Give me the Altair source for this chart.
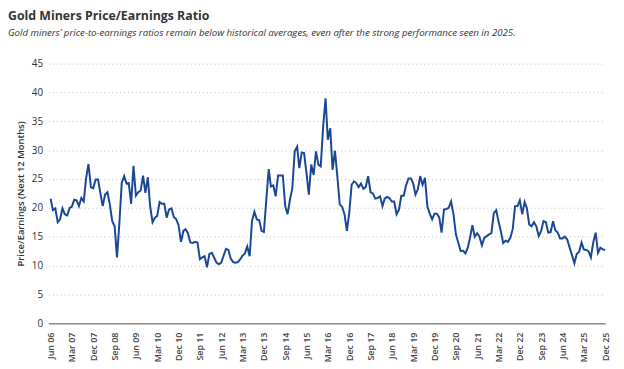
import altair as alt
import pandas as pd

# Monthly forward P/E of gold miners, Jun 2006 .. Dec 2025
pe_2006_2011 = [21.6, 19.6, 19.9, 17.5, 18.0, 19.9, 18.9, 18.7, 20.0, 20.2,
                21.4, 21.3, 20.3, 21.7, 21.1, 25.2, 27.6, 23.6, 23.4, 24.9,
                24.9, 22.6, 20.3, 22.3, 22.7, 20.6, 17.7, 16.8, 11.4, 17.4,
                24.3, 25.5, 24.2, 24.3, 20.7, 27.3, 22.1, 22.7, 23.0, 25.6,
                22.6, 25.3, 20.3, 17.5, 18.3, 18.6, 21.0, 20.7, 20.7, 18.3,
                19.7, 19.9, 18.4, 18.0, 17.0, 14.1, 16.0, 16.3]
pe_2011_2016 = [15.6, 14.0, 13.9, 14.1, 14.0, 11.1, 11.4, 11.6, 9.7, 12.0,
                12.2, 11.4, 10.5, 10.2, 10.5, 11.7, 12.9, 12.7, 11.2, 10.6,
                10.5, 10.6, 11.1, 11.7, 12.1, 13.3, 11.6, 17.7, 19.3, 18.0,
                17.9, 16.0, 15.8, 21.4, 26.7, 23.7, 23.9, 22.0, 25.6, 25.6,
                25.6, 20.3, 18.9, 21.4, 23.4, 29.8, 30.6, 26.9, 29.6, 29.5,
                26.0, 22.3, 27.5, 25.7, 29.8, 27.5, 27.2, 34.1]
pe_2016_2020 = [39.0, 31.8, 33.8, 26.6, 29.9, 25.5, 20.6, 20.2, 18.9, 16.0,
                19.1, 24.0, 24.6, 24.3, 23.6, 24.2, 23.3, 23.6, 25.5, 22.7,
                22.5, 21.6, 21.7, 22.0, 20.3, 21.6, 21.9, 21.7, 21.1, 21.1,
                18.9, 19.7, 22.1, 22.1, 23.9, 25.1, 25.1, 24.3, 22.3, 23.2,
                25.5, 24.0, 25.2, 20.2, 19.0, 18.0, 19.0, 19.0, 18.3, 15.7,
                19.7, 19.8, 20.0, 21.1, 18.9, 15.4, 14.0, 12.5, 12.6]
pe_2021_2025 = [12.1, 13.1, 14.8, 17.0, 15.0, 15.6, 15.0, 13.5, 14.8, 15.1,
                15.4, 15.6, 19.1, 19.6, 17.7, 16.0, 13.9, 14.3, 14.1, 14.8,
                16.3, 20.3, 20.3, 21.3, 18.9, 21.0, 20.0, 17.1, 16.8, 17.5,
                16.8, 15.1, 16.0, 17.7, 17.5, 15.7, 15.8, 17.7, 16.1, 15.7,
                14.7, 14.7, 15.0, 14.5, 13.1, 11.8, 10.4, 12.0, 12.4, 14.0,
                12.8, 12.7, 12.5, 11.4, 14.0, 15.7, 12.2, 13.1, 12.8, 12.7]

pe = pe_2006_2011 + pe_2011_2016 + pe_2016_2020 + pe_2021_2025
months = pd.date_range("2006-06-01", periods=len(pe), freq="MS").strftime("%Y-%m-%d")

tick_labels = ["Jun 06", "Mar 07", "Dec 07", "Sep 08", "Jun 09", "Mar 10", "Dec 10",
               "Sep 11", "Jun 12", "Mar 13", "Dec 13", "Sep 14", "Jun 15", "Mar 16",
               "Dec 16", "Sep 17", "Jun 18", "Mar 19", "Dec 19", "Sep 20", "Jun 21",
               "Mar 22", "Dec 22", "Sep 23", "Jun 24", "Mar 25", "Dec 25"]
month_num = {"Jan": 1, "Feb": 2, "Mar": 3, "Apr": 4, "May": 5, "Jun": 6, "Jul": 7,
             "Aug": 8, "Sep": 9, "Oct": 10, "Nov": 11, "Dec": 12}
tick_values = [alt.DateTime(year=2000 + int(t[4:]), month=month_num[t[:3]], date=1, utc=True)
               for t in tick_labels]

df = pd.DataFrame({"date": months, "pe": pe})

FONT = "Open Sans"
chart = alt.Chart(df).mark_line(color="#1a4795", strokeWidth=2).encode(
    x=alt.X("date:T",
            scale=alt.Scale(type="utc",
                            domain=[alt.DateTime(year=2006, month=5, date=5, utc=True),
                                    alt.DateTime(year=2025, month=12, date=1, utc=True)]),
            axis=alt.Axis(values=tick_values, format="%b %y", labelAngle=-90,
                          labelAlign="right", labelBaseline="middle", title=None,
                          grid=False, ticks=False, domainColor="#888888", domainWidth=1.5,
                          labelColor="#444444", labelFontSize=9, labelFontWeight=600,
                          labelPadding=9, labelFont=FONT)),
    y=alt.Y("pe:Q", scale=alt.Scale(domain=[0, 45], nice=False),
            axis=alt.Axis(values=list(range(0, 50, 5)), title="Price/Earnings (Next 12 Months)",
                          titleFontSize=9.5, titleFontWeight=600, titleColor="#333333",
                          titleFont=FONT, titlePadding=6,
                          grid=True, gridDash=[1, 3], gridColor="#bbbbbb", domain=False,
                          ticks=False, labelColor="#333333", labelFontSize=10,
                          labelFont=FONT, labelPadding=6)),
).properties(
    width=564, height=263,
    padding={"left": 41, "top": 54, "right": 11, "bottom": 42},
    autosize=alt.AutoSizeParams(type="none"),
    title=alt.TitleParams(
        text="Gold Miners Price/Earnings Ratio",
        subtitle="Gold miners\u2019 price-to-earnings ratios remain below historical averages, even after the strong performance seen in 2025.",
        anchor="start", frame="group", dx=-41, offset=21,
        font=FONT, fontSize=12.5, fontWeight="bold", color="#333333",
        subtitleFont=FONT, subtitleFontSize=9.8, subtitleFontStyle="italic",
        subtitleColor="#333333", subtitlePadding=6,
    ),
).configure_view(stroke=None)

chart.save("out.html", embed_options={"renderer": "svg", "actions": False})
